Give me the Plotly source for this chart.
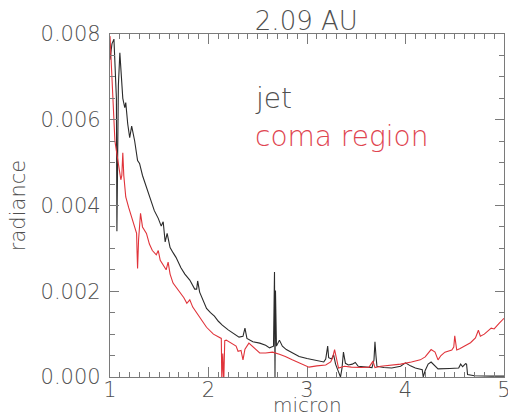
import plotly.graph_objects as go

# wavelength (micron) and radiance values
jet_x = [1.00, 1.02, 1.04, 1.055, 1.065, 1.07, 1.075, 1.085, 1.10, 1.11, 1.12, 1.13, 1.15, 1.16,
         1.18, 1.20, 1.22, 1.23, 1.25, 1.28, 1.30, 1.33, 1.37, 1.41, 1.45, 1.49, 1.52, 1.54,
         1.56, 1.58, 1.61, 1.64, 1.67, 1.72, 1.76, 1.81, 1.86, 1.88, 1.89, 1.91, 1.95, 1.98,
         2.02, 2.06, 2.10, 2.14, 2.20, 2.26, 2.31, 2.35, 2.37, 2.39, 2.45, 2.52, 2.58, 2.62,
         2.66, 2.67, 2.675, 2.68, 2.69, 2.72, 2.75, 2.79, 2.85, 2.92, 3.00, 3.08, 3.17, 3.19,
         3.21, 3.22, 3.25, 3.27, 3.29, 3.32, 3.34, 3.355, 3.37, 3.39, 3.42, 3.46, 3.49, 3.52,
         3.59, 3.66, 3.68, 3.69, 3.70, 3.71, 3.78, 3.86, 3.95, 4.00, 4.05, 4.10, 4.17, 4.18,
         4.20, 4.23, 4.26, 4.30, 4.33, 4.45, 4.54, 4.56, 4.58, 4.61, 4.62, 4.63, 4.70, 4.87, 5.00]
jet_y = [0.00740, 0.00777, 0.00788, 0.00720, 0.00650, 0.00340, 0.00500, 0.00680, 0.00756, 0.00720,
         0.00690, 0.00650, 0.00628, 0.00640, 0.00590, 0.00558, 0.00585, 0.00575, 0.00551, 0.00505,
         0.00498, 0.00470, 0.00442, 0.00415, 0.00388, 0.00370, 0.00352, 0.00362, 0.00315, 0.00335,
         0.00302, 0.00290, 0.00279, 0.00255, 0.00240, 0.00226, 0.00205, 0.00205, 0.00224, 0.00198,
         0.00175, 0.00160, 0.00150, 0.00142, 0.00130, 0.00121, 0.00110, 0.00100, 0.00093, 0.00095,
         0.00114, 0.00090, 0.00082, 0.00079, 0.00074, 0.00068, 0.00072, 0.00245, 0.00000, 0.00202,
         0.00072, 0.00086, 0.00072, 0.00064, 0.00056, 0.00048, 0.00043, 0.00039, 0.00035, 0.00042,
         0.00072, 0.00045, 0.00042, 0.00052, 0.00030, 0.00012, 0.00000, 0.00020, 0.00058, 0.00032,
         0.00028, 0.00030, 0.00034, 0.00025, 0.00023, 0.00022, 0.00040, 0.00082, 0.00050, 0.00025,
         0.00022, 0.00021, 0.00025, 0.00033, 0.00026, 0.00021, 0.00017, 0.00000, 0.00015, 0.00030,
         0.00035, 0.00025, 0.00019, 0.00020, 0.00021, 0.00030, 0.00024, 0.00031, 0.00030, 0.00006,
         0.00003, 0.00002, 0.00002]

coma_x = [1.00, 1.01, 1.03, 1.05, 1.07, 1.09, 1.11, 1.12, 1.13, 1.14, 1.16, 1.19, 1.23, 1.27,
          1.275, 1.28, 1.29, 1.31, 1.33, 1.37, 1.40, 1.43, 1.47, 1.49, 1.51, 1.55, 1.57, 1.59,
          1.61, 1.64, 1.67, 1.70, 1.75, 1.78, 1.81, 1.84, 1.90, 1.94, 1.98, 2.05, 2.11, 2.13,
          2.135, 2.145, 2.155, 2.165, 2.18, 2.25, 2.28, 2.30, 2.33, 2.35, 2.37, 2.41, 2.45, 2.48,
          2.52, 2.58, 2.65, 2.72, 2.78, 2.85, 2.95, 3.02, 3.10, 3.19, 3.24, 3.26, 3.28, 3.30,
          3.32, 3.38, 3.45, 3.55, 3.63, 3.67, 3.69, 3.75, 3.86, 3.95, 4.06, 4.15, 4.20, 4.26,
          4.30, 4.33, 4.36, 4.40, 4.47, 4.49, 4.50, 4.52, 4.55, 4.61, 4.66, 4.71, 4.74, 4.76,
          4.80, 4.87, 4.90, 4.95, 5.00]
coma_y = [0.00795, 0.00740, 0.00667, 0.00550, 0.00520, 0.00488, 0.00460, 0.00470, 0.00523, 0.00470,
          0.00420, 0.00395, 0.00365, 0.00335, 0.00290, 0.00253, 0.00320, 0.00382, 0.00350, 0.00335,
          0.00310, 0.00295, 0.00285, 0.00295, 0.00272, 0.00255, 0.00250, 0.00268, 0.00240, 0.00219,
          0.00210, 0.00200, 0.00185, 0.00172, 0.00180, 0.00163, 0.00142, 0.00128, 0.00116, 0.00100,
          0.00093, 0.00090, -0.00010, 0.00055, -0.00010, 0.00085, 0.00086, 0.00075, 0.00072, 0.00060,
          0.00062, 0.00040, 0.00065, 0.00079, 0.00070, 0.00063, 0.00056, 0.00056, 0.00058, 0.00053,
          0.00048, 0.00040, 0.00030, 0.00023, 0.00026, 0.00028, 0.00035, 0.00045, 0.00064, 0.00040,
          0.00021, 0.00025, 0.00023, 0.00022, 0.00023, 0.00037, 0.00022, 0.00025, 0.00028, 0.00030,
          0.00035, 0.00040, 0.00047, 0.00064, 0.00058, 0.00040, 0.00050, 0.00058, 0.00063, 0.00070,
          0.00096, 0.00063, 0.00066, 0.00074, 0.00080, 0.00091, 0.00109, 0.00095, 0.00100, 0.00114,
          0.00112, 0.00125, 0.00137]

x_tick_vals = [1, 2, 3, 4, 5]
x_tick_text = ["1", "2", "3", "4", "5"]
y_tick_vals = [0.000, 0.002, 0.004, 0.006, 0.008]
y_tick_text = ["0.000", "0.002", "0.004", "0.006", "0.008"]

FONT = "DejaVu Sans"
GRAY = "#505050"
AXC = "#7a7a7a"

fig = go.Figure()
fig.add_trace(go.Scatter(x=jet_x, y=jet_y, mode="lines", name="jet",
                         line=dict(color="#2b2b2b", width=1.1)))
fig.add_trace(go.Scatter(x=coma_x, y=coma_y, mode="lines", name="coma region",
                         line=dict(color="#e0333a", width=1.1)))

axis_common = dict(
    showgrid=False, zeroline=False, showline=True, linecolor=AXC, linewidth=1.2,
    mirror="ticks", ticks="inside", tickcolor=AXC, tickwidth=1.2, automargin=False,
    ticklabeloverflow="allow",
    tickfont=dict(family=FONT, size=21, color=GRAY, weight=300),
)

fig.update_xaxes(range=[1, 5], tickvals=x_tick_vals, ticktext=x_tick_text, ticklen=10,
                 ticklabelstandoff=-6,
                 minor=dict(dtick=0.1, ticks="inside", ticklen=5, tickcolor=AXC, tickwidth=1.2),
                 **axis_common)
fig.update_yaxes(range=[0, 0.008], tickvals=y_tick_vals, ticktext=y_tick_text, ticklen=9,
                 ticklabelstandoff=4,
                 minor=dict(dtick=0.0005, ticks="inside", ticklen=5, tickcolor=AXC, tickwidth=1.2),
                 title=dict(text="radiance", font=dict(family=FONT, size=21, color=GRAY, weight=300),
                            standoff=9),
                 **axis_common)

# x-axis title placed just below the tick labels, as in the original
fig.add_annotation(x=0.5, y=-0.082, xref="x domain", yref="y domain", text="micron",
                   showarrow=False, xanchor="center", yanchor="middle",
                   font=dict(family=FONT, size=20, color=GRAY, weight=300))

fig.add_annotation(x=2.45, y=0.0065, xref="x", yref="y", text="jet", showarrow=False,
                   xanchor="left", yanchor="middle",
                   font=dict(family=FONT, size=28, color=GRAY, weight=300))
fig.add_annotation(x=2.45, y=0.0056, xref="x", yref="y", text="coma region", showarrow=False,
                   xanchor="left", yanchor="middle",
                   font=dict(family=FONT, size=28, color="#e04550", weight=300))

fig.update_layout(
    width=508, height=417,
    margin=dict(l=110, r=4, t=34, b=40),
    paper_bgcolor="white", plot_bgcolor="white",
    showlegend=False,
    title=dict(text="2.09 AU", x=0.603, xanchor="center", y=0.95, yanchor="middle",
               font=dict(family=FONT, size=26, color=GRAY, weight=300)),
)

# remove the browser's default page margin so the figure fills the 508x417 window exactly
fig.write_html("out.html", config={"displayModeBar": False},
               post_script="document.body.style.margin='0';document.body.style.overflow='hidden';")
